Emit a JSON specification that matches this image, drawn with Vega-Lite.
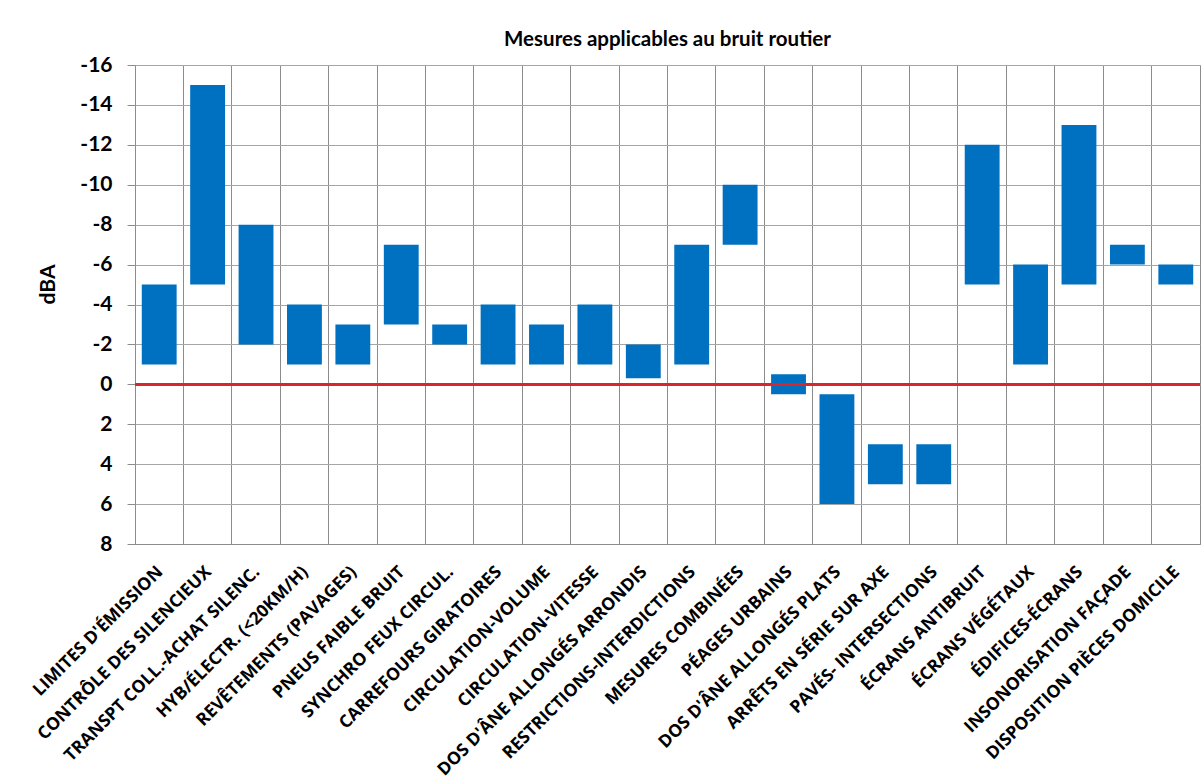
{
  "$schema": "https://vega.github.io/schema/vega-lite/v6.json",
  "width": 1065,
  "height": 479,
  "autosize": {"type": "none"},
  "padding": {"left": 135, "top": 65, "right": 2, "bottom": 240},
  "background": "white",
  "title": {"text": "Mesures applicables au bruit routier", "font": "Lato", "fontSize": 20.5, "fontWeight": "bold", "color": "#000000", "anchor": "middle", "offset": 4},
  "config": {
    "view": {"stroke": "#8c8c8c", "strokeWidth": 1},
    "font": "Lato",
    "axisY": {
      "titleFont": "Lato",
      "titleFontSize": 21,
      "titleFontWeight": "bold",
      "titleColor": "#000000",
      "titleX": -77,
      "titleY": 219,
      "values": [-16,-15,-14,-13,-12,-11,-10,-9,-8,-7,-6,-5,-4,-3,-2,-1,0,1,2,3,4,5,6,7,8],
      "labelExpr": "datum.value % 2 == 0 ? toString(datum.value) : ''",
      "labelOverlap": false,
      "labelFont": "Lato",
      "labelFontSize": 21,
      "labelFontWeight": "bold",
      "labelColor": "#000000",
      "labelPadding": 15,
      "tickSize": 8,
      "tickColor": "#8c8c8c",
      "domain": false,
      "grid": true,
      "gridColor": "#a6a6a6",
      "gridOpacity": 1,
      "gridWidth": 1
    }
  },
  "data": {"values": [
    {"mesure": "Limites d'émission", "bas": -1, "haut": -5},
    {"mesure": "Contrôle des silencieux", "bas": -5, "haut": -15},
    {"mesure": "Transpt coll.-achat silenc.", "bas": -2, "haut": -8},
    {"mesure": "Hyb/Électr. (<20km/h)", "bas": -1, "haut": -4},
    {"mesure": "Revêtements  (pavages)", "bas": -1, "haut": -3},
    {"mesure": "Pneus faible bruit", "bas": -3, "haut": -7},
    {"mesure": "Synchro feux circul.", "bas": -2, "haut": -3},
    {"mesure": "Carrefours giratoires", "bas": -1, "haut": -4},
    {"mesure": "Circulation-Volume", "bas": -1, "haut": -3},
    {"mesure": "Circulation-Vitesse", "bas": -1, "haut": -4},
    {"mesure": "Dos d'âne allongés arrondis", "bas": -0.3, "haut": -2},
    {"mesure": "Restrictions-Interdictions", "bas": -1, "haut": -7},
    {"mesure": "Mesures combinées", "bas": -7, "haut": -10},
    {"mesure": "Péages urbains", "bas": 0.5, "haut": -0.5},
    {"mesure": "Dos d'âne allongés plats", "bas": 6, "haut": 0.5},
    {"mesure": "Arrêts en série sur axe", "bas": 5, "haut": 3},
    {"mesure": "Pavés- Intersections", "bas": 5, "haut": 3},
    {"mesure": "Écrans antibruit", "bas": -5, "haut": -12},
    {"mesure": "Écrans végétaux", "bas": -1, "haut": -6},
    {"mesure": "Édifices-écrans", "bas": -5, "haut": -13},
    {"mesure": "Insonorisation façade", "bas": -6, "haut": -7},
    {"mesure": "Disposition pièces domicile", "bas": -5, "haut": -6}
  ]},
  "layer": [
    {
      "mark": {"type": "bar", "color": "#0070C0", "width": {"band": 0.72}},
      "encoding": {
        "x": {
          "field": "mesure", "type": "nominal", "sort": null,
          "scale": {"paddingInner": 0, "paddingOuter": 0},
          "axis": {
            "title": null,
            "bandPosition": 0,
            "labelOffset": 1,
            "labelAngle": -45,
            "labelAlign": "right",
            "labelBaseline": "middle",
            "labelPadding": 25,
            "labelExpr": "upper(datum.label)",
            "labelFont": "Open Sans",
            "labelFontSize": 17.5,
            "labelFontWeight": "bold",
            "labelColor": "#000000",
            "labelLimit": 400,
            "labelOverlap": false,
            "ticks": false,
            "domainColor": "#8c8c8c",
            "grid": true,
            "gridColor": "#8c8c8c",
            "gridOpacity": 1,
            "gridWidth": 1
          }
        },
        "y": {
          "field": "bas", "type": "quantitative", "title": "dBA",
          "scale": {"domain": [-16, 8], "reverse": true, "nice": false}
        },
        "y2": {"field": "haut"}
      }
    },
    {
      "mark": {"type": "rule", "color": "#D9262C", "strokeWidth": 2.5},
      "encoding": {"y": {"datum": 0, "type": "quantitative", "title": "dBA"}}
    }
  ]
}
